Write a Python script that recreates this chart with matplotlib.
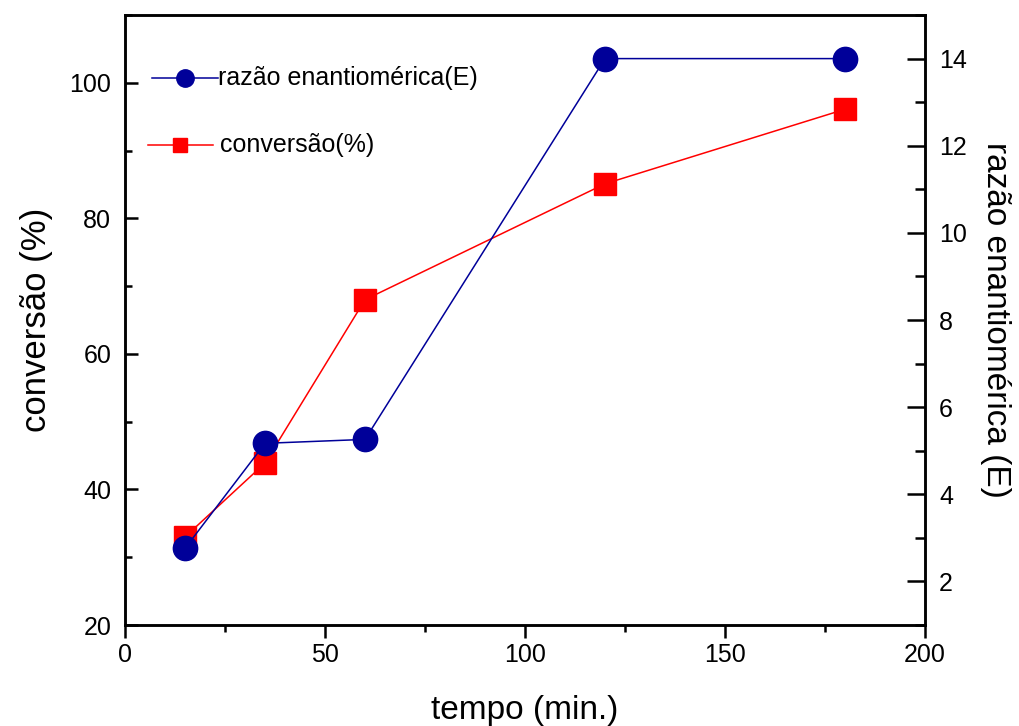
import matplotlib
matplotlib.use("Agg")
import matplotlib.pyplot as plt
from matplotlib.ticker import MultipleLocator
from matplotlib.lines import Line2D

plt.rcParams['font.family'] = ['Liberation Sans', 'DejaVu Sans']

tempo = [15, 35, 60, 120, 180]
conversao = [33.0, 43.9, 68.0, 85.1, 96.1]
razao_E = [2.76, 5.17, 5.26, 14.0, 14.0]
legend_labels = ['razão enantiomérica(E)', 'conversão(%)']

blue = '#000099'
red = '#ff0000'

fig = plt.figure(figsize=(10.19, 7.26), dpi=100)
ax = fig.add_axes([0.1227, 0.1391, 0.7851, 0.8402])
ax2 = ax.twinx()

ax.plot(tempo, conversao, color=red, lw=1.1, marker='s', ms=15.5,
        markeredgecolor=red, zorder=3)
ax2.plot(tempo, razao_E, color=blue, lw=1.1, marker='o', ms=17.5,
         markeredgecolor=blue, zorder=3)

ax.set_xlim(0, 200)
ax.set_ylim(20, 110)
ax2.set_ylim(1, 15)

ax.xaxis.set_major_locator(MultipleLocator(50))
ax.xaxis.set_minor_locator(MultipleLocator(25))
ax.yaxis.set_major_locator(MultipleLocator(20))
ax.yaxis.set_minor_locator(MultipleLocator(10))
ax2.yaxis.set_major_locator(MultipleLocator(2))
ax2.yaxis.set_minor_locator(MultipleLocator(1))

for a in (ax, ax2):
    for s in a.spines.values():
        s.set_linewidth(1.8)

ax.tick_params(axis='x', which='major', direction='out', length=9, width=1.8,
               labelsize=18, top=False, pad=4)
ax.tick_params(axis='x', which='minor', direction='out', length=5, width=1.8, top=False)
ax.tick_params(axis='y', which='major', direction='in', length=9, width=1.8,
               labelsize=18, pad=10)
ax.tick_params(axis='y', which='minor', direction='in', length=5, width=1.8)
ax2.tick_params(axis='y', which='major', direction='in', length=13, width=1.8,
                labelsize=18, pad=10)
ax2.tick_params(axis='y', which='minor', direction='in', length=7, width=1.8)

ax.set_xlabel('tempo (min.)', fontsize=24, labelpad=20)
ax.set_ylabel('conversão (%)', fontsize=25, labelpad=12)
ax2.set_ylabel('razão enantiomérica (E)', fontsize=24, rotation=270, labelpad=32)

# legend drawn manually in axes coordinates
leg_specs = [
    (blue, 'o', 12.5, (0.034, 0.116), 0.075, 0.897, 0.116),
    (red, 's', 10.5, (0.029, 0.110), 0.069, 0.787, 0.119),
]
for (c, m, ms, (x0, x1), xm, y, xt), lab in zip(leg_specs, legend_labels):
    ax.add_line(Line2D([x0, x1], [y, y], color=c, lw=1.1, transform=ax.transAxes))
    ax.add_line(Line2D([xm], [y], color=c, marker=m, ms=ms, markeredgecolor=c,
                       transform=ax.transAxes))
    ax.text(xt, y, lab, transform=ax.transAxes, fontsize=18, va='center', ha='left')

fig.savefig('out.png', dpi=100)
